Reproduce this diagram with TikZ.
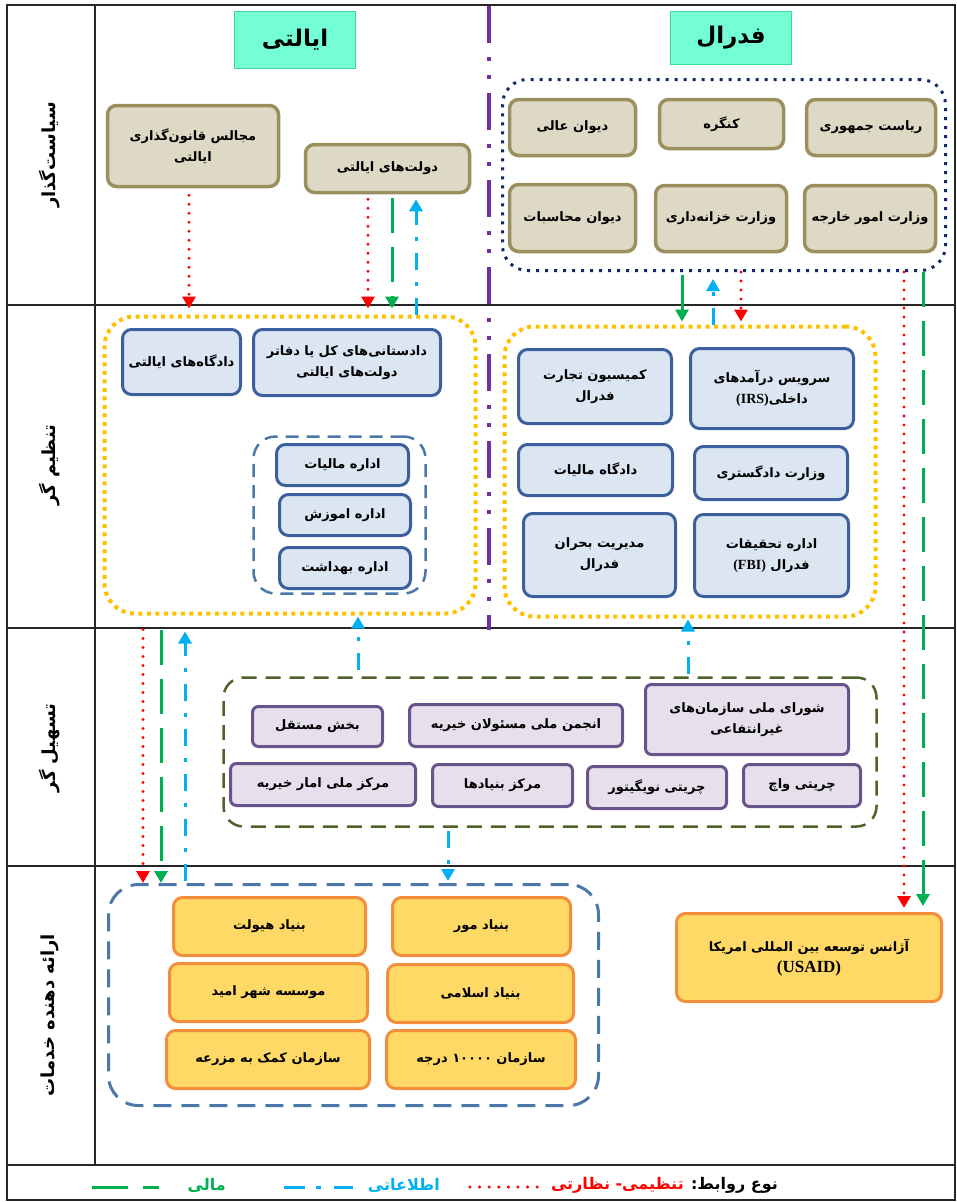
\documentclass[tikz,border=0pt]{standalone}
\usepackage{fontspec}
\setmainfont{Liberation Serif}
\newfontfamily\fa[Script=Arabic]{DejaVu Sans}
\newfontfamily\lat{Liberation Serif}
\TeXXeTstate=1
\usetikzlibrary{arrows.meta}
\newcommand\fr[1]{\beginR #1\endR}
\newcommand\bx[7]{\node[#1, minimum width={#4-#2-3}, minimum height={#5-#3-3}] (#6) at ({(#2+#4)/2},{(#3+#5)/2}) {#7};}
\definecolor{tanF}{HTML}{DDD9C4}
\definecolor{tanB}{HTML}{9C8F5E}
\definecolor{regF}{HTML}{DCE6F2}
\definecolor{regB}{HTML}{3C609E}
\definecolor{facF}{HTML}{E5E0EC}
\definecolor{facB}{HTML}{66548A}
\definecolor{svcF}{HTML}{FFD966}
\definecolor{svcB}{HTML}{F28E3C}
\definecolor{hdrF}{HTML}{73FFD3}
\definecolor{hdrB}{HTML}{3EDB96}
\definecolor{navyC}{HTML}{0F2A66}
\definecolor{goldC}{HTML}{FFC000}
\definecolor{steelC}{HTML}{4B78A8}
\definecolor{oliveC}{HTML}{4F6228}
\definecolor{purpC}{HTML}{7030A0}
\definecolor{redC}{HTML}{FF0000}
\definecolor{infoC}{HTML}{00B0F0}
\definecolor{finC}{HTML}{00B050}
\tikzset{
  boxtxt/.style={align=center, inner sep=0pt, font=\fa\bfseries\fontsize{13}{21}\selectfont, text=black},
  tanbox/.style={boxtxt, draw=tanB, fill=tanF, line width=3.5pt, rounded corners=9pt},
  regbox/.style={boxtxt, draw=regB, fill=regF, line width=3pt, rounded corners=9pt},
  facbox/.style={boxtxt, draw=facB, fill=facF, line width=3pt, rounded corners=6pt},
  svcbox/.style={boxtxt, draw=svcB, fill=svcF, line width=3pt, rounded corners=9pt},
  hdrbox/.style={align=center, draw=hdrB, fill=hdrF, line width=1.5pt, font=\fa\bfseries\fontsize{23}{26}\selectfont},
  navycont/.style={draw=navyC, line width=3pt, dash pattern=on 3pt off 6pt, rounded corners=25pt},
  goldcont/.style={draw=goldC, line width=4pt, dash pattern=on 4pt off 4.5pt, rounded corners=30pt},
  steelcont/.style={draw=steelC, line width=2.5pt, dash pattern=on 13pt off 8pt, rounded corners=22pt},
  olivecont/.style={draw=oliveC, line width=2.5pt, dash pattern=on 15pt off 9pt, rounded corners=20pt},
  svccont/.style={draw=steelC, line width=3pt, dash pattern=on 18pt off 10pt, rounded corners=30pt},
  tipA/.style={-{Triangle[width=13pt,length=12pt]}},
  regl/.style={tipA, draw=redC, line width=3.4pt, line cap=round, dash pattern=on 0pt off 9pt},
  finl/.style={tipA, draw=finC, line width=3pt, dash pattern=on 35pt off 14pt},
  infl/.style={tipA, draw=infoC, line width=3pt, dash pattern=on 17pt off 12pt on 4pt off 12pt},
  rowlab/.style={rotate=90, font=\fa\bfseries\fontsize{18}{20}\selectfont},
  legtxt/.style={anchor=east, inner sep=0pt, font=\fa\bfseries\fontsize{16}{18}\selectfont}
}
\begin{document}
\begin{tikzpicture}[x=1pt,y=-1pt]
\useasboundingbox (0,0) rectangle (957,1202);
% frame
\draw[line width=1.2pt, black!85] (7,5) rectangle (955,1200);
\draw[line width=1.2pt, black!85] (7,305) -- (955,305) (7,628) -- (955,628) (7,866) -- (955,866) (7,1165) -- (955,1165);
\draw[line width=1.2pt, black!85] (95,5) -- (95,1165);
\draw[draw=purpC, line width=4pt, dash pattern=on 37pt off 14pt on 4pt off 14pt on 4pt off 14pt] (489,6) -- (489,630);
% row labels
\node[rowlab] (lab1) at (50,155) {\fr{سیاست^^^^200cگذار}};
\node[rowlab] (lab2) at (50,465) {\fr{تنظیم گر}};
\node[rowlab] (lab3) at (50,748) {\fr{تسهیل گر}};
\node[rowlab] (lab4) at (50,1015) {\fr{ارائه دهنده خدمات}};
% headers
\bx{hdrbox}{233}{10}{357}{70}{hdrL}{\fr{ایالتی}}
\bx{hdrbox}{669}{10}{793}{66}{hdrF}{\fr{فدرال}}
% policy row
\bx{tanbox}{106}{104}{280}{188}{majales}{\fr{مجالس قانون^^^^200cگذاری}\\\fr{ایالتی}}
\bx{tanbox}{304}{143}{471}{194}{dolat}{\fr{دولت^^^^200cهای ایالتی}}
\bx{navycont}{501}{78}{947}{272}{fed}{}
\bx{tanbox}{508}{98}{637}{157}{divan}{\fr{دیوان عالی}}
\bx{tanbox}{658}{98}{785}{150}{kongre}{\fr{کنگره}}
\bx{tanbox}{805}{98}{937}{157}{riasat}{\fr{ریاست جمهوری}}
\bx{tanbox}{508}{183}{637}{253}{mohasebat}{\fr{دیوان محاسبات}}
\bx{tanbox}{654}{184}{788}{253}{khazane}{\fr{وزارت خزانه^^^^200cداری}}
\bx{tanbox}{803}{184}{937}{253}{kharje}{\fr{وزارت امور خارجه}}
% regulator row
\bx{goldcont}{103}{315}{477}{615}{lyel}{}
\bx{regbox}{121}{328}{242}{396}{dadgah}{\fr{دادگاه^^^^200cهای ایالتی}}
\bx{regbox}{252}{328}{442}{397}{dadsetani}{\fr{دادستانی^^^^200cهای کل یا دفاتر}\\\fr{دولت^^^^200cهای ایالتی}}
\bx{steelcont}{252}{435}{427}{595}{edarat}{}
\bx{regbox}{275}{443}{410}{487}{maliat}{\fr{اداره مالیات}}
\bx{regbox}{278}{493}{412}{537}{amoozesh}{\fr{اداره اموزش}}
\bx{regbox}{278}{546}{412}{590}{behdasht}{\fr{اداره بهداشت}}
\bx{goldcont}{503}{325}{877}{618}{ryel}{}
\bx{regbox}{517}{348}{673}{425}{ftc}{\fr{کمیسیون تجارت}\\\fr{فدرال}}
\bx{regbox}{689}{347}{855}{430}{irs}{\fr{سرویس درآمدهای}\\\fr{داخلی\beginL{\lat\fontsize{14}{21}\selectfont(IRS)}\endL}}
\bx{regbox}{517}{443}{674}{497}{dadmaliat}{\fr{دادگاه مالیات}}
\bx{regbox}{693}{445}{849}{501}{dadgostari}{\fr{وزارت دادگستری}}
\bx{regbox}{522}{512}{677}{598}{bohran}{\fr{مدیریت بحران}\\\fr{فدرال}}
\bx{regbox}{693}{513}{850}{598}{fbi}{\fr{اداره تحقیقات}\\\fr{فدرال \beginL{\lat\fontsize{14}{21}\selectfont(FBI)}\endL}}
% facilitator row
\bx{olivecont}{222}{676}{878}{828}{fac}{}
\bx{facbox}{251}{705}{384}{748}{mostaghel}{\fr{بخش مستقل}}
\bx{facbox}{408}{703}{624}{748}{anjoman}{\fr{انجمن ملی مسئولان خیریه}}
\bx{facbox}{644}{683}{850}{756}{shora}{\fr{شورای ملی سازمان^^^^200cهای}\\\fr{غیرانتفاعی}}
\bx{facbox}{229}{762}{417}{807}{amar}{\fr{مرکز ملی امار خیریه}}
\bx{facbox}{431}{763}{574}{808}{bonyadha}{\fr{مرکز بنیادها}}
\bx{facbox}{586}{765}{728}{810}{navigator}{\fr{چریتی نویگیتور}}
\bx{facbox}{742}{763}{862}{808}{watch}{\fr{چریتی واچ}}
% service row
\bx{svccont}{107}{883}{600}{1107}{svc}{}
\bx{svcbox}{172}{896}{367}{957}{hewlett}{\fr{بنیاد هیولت}}
\bx{svcbox}{391}{896}{572}{957}{moor}{\fr{بنیاد مور}}
\bx{svcbox}{168}{962}{369}{1023}{omid}{\fr{موسسه شهر امید}}
\bx{svcbox}{386}{963}{575}{1024}{eslami}{\fr{بنیاد اسلامی}}
\bx{svcbox}{165}{1029}{371}{1090}{mazrae}{\fr{سازمان کمک به مزرعه}}
\bx{svcbox}{385}{1029}{577}{1090}{daraje}{\fr{سازمان \beginL ۱۰۰۰۰\endL{} درجه}}
\bx{svcbox}{675}{912}{943}{1003}{usaid}{\fr{آژانس توسعه بین المللی امریکا}\\{\lat\fontsize{17}{21}\selectfont (USAID)}}
% connector columns
\coordinate (xa) at (189,0);
\coordinate (xb) at (368,0);
\coordinate (xc) at (392,0);
\coordinate (xd) at (416,0);
\coordinate (xe) at (682,0);
\coordinate (xf) at (713,0);
\coordinate (xg) at (741,0);
\coordinate (xh) at (904,0);
\coordinate (xi) at (923,0);
\coordinate (xj) at (143,0);
\coordinate (xk) at (161,0);
\coordinate (xl) at (185,0);
\coordinate (xm) at (358,0);
\coordinate (xn) at (688,0);
\coordinate (xo) at (448,0);
% connectors
\draw[regl, shorten <=7pt, shorten >=6pt] (majales.south -| xa) -- (lyel.north -| xa);
\draw[regl, shorten <=5pt, shorten >=6pt] (dolat.south -| xb) -- (lyel.north -| xb);
\draw[finl, shorten <=4pt, shorten >=6pt] (dolat.south -| xc) -- (lyel.north -| xc);
\draw[infl, shorten >=5pt] (lyel.north -| xd) -- (dolat.south -| xd);
\draw[finl, shorten <=3pt, shorten >=3pt] (fed.south -| xe) -- (ryel.north -| xe);
\draw[infl, shorten >=7pt] (ryel.north -| xf) -- (fed.south -| xf);
\draw[regl, shorten >=3pt] (fed.south -| xg) -- (ryel.north -| xg);
\draw[regl, shorten >=4pt] (fed.south -| xh) -- (usaid.north -| xh);
\draw[finl, shorten >=6pt] (fed.south -| xi) -- (usaid.north -| xi);
\draw[regl, shorten <=14pt] (lyel.south -| xj) -- (svc.north -| xj);
\draw[finl, shorten <=14pt] (lyel.south -| xk) -- (svc.north -| xk);
\draw[infl, shorten <=2pt, shorten >=16pt] (svc.north -| xl) -- (lyel.south -| xl);
\draw[infl, shorten <=6pt, shorten >=1pt] (fac.north -| xm) -- (lyel.south -| xm);
\draw[infl, shorten <=2pt, shorten >=1pt] (fac.north -| xn) -- (ryel.south -| xn);
\draw[infl, shorten <=3pt, shorten >=2pt] (fac.south -| xo) -- (svc.north -| xo);
% legend
\node[legtxt, text=black] (lg1) at (778,1185) {\fr{نوع روابط:}};
\node[legtxt, text=redC] (lg2) at (684,1185) {\fr{تنظیمی- نظارتی}};
\coordinate (lr1) at (470,1187);
\coordinate (lr2) at (538,1187);
\draw[draw=redC, line width=3.4pt, line cap=round, dash pattern=on 0pt off 9.6pt] (lr1) -- (lr2);
\node[legtxt, text=infoC] (lg3) at (440,1185) {\fr{اطلاعاتی}};
\coordinate (lb1) at (284,1187);
\coordinate (lb2) at (353,1187);
\draw[draw=infoC, line width=3pt, dash pattern=on 21pt off 11pt on 5pt off 13pt on 19pt off 5pt] (lb1) -- (lb2);
\node[legtxt, text=finC] (lg4) at (226,1185) {\fr{مالی}};
\coordinate (lf1) at (92,1187);
\coordinate (lf2) at (159,1187);
\draw[draw=finC, line width=3pt, dash pattern=on 36pt off 15pt on 16pt off 5pt] (lf1) -- (lf2);
\end{tikzpicture}
\end{document}
